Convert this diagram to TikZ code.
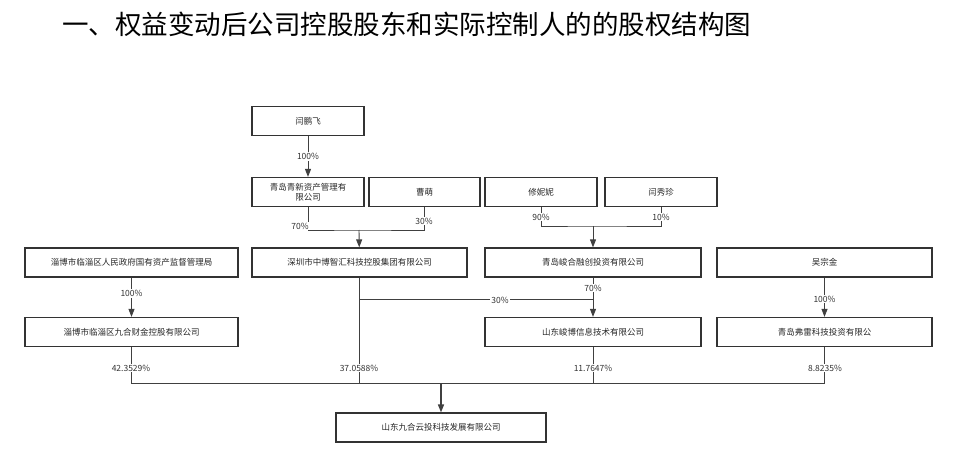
\documentclass[tikz,border=0pt]{standalone}
\usepackage{fontspec}
\setmainfont{Noto Sans CJK SC}
\usetikzlibrary{arrows.meta}
\begin{document}
\begin{tikzpicture}[x=1pt,y=-1pt,
  box/.style={draw=black!80,line width=1.2pt,minimum height=29pt,inner sep=1pt,font=\fontsize{8.5}{10}\selectfont,text=black!85,align=center},
  ln/.style={draw=black!75,line width=0.9pt},
  ar/.style={ln,-{Triangle[length=8pt,width=6pt]}},
  lb/.style={fill=white,inner sep=1pt,font=\fontsize{8.5}{10}\selectfont,text=black!80}]
\useasboundingbox (0,0) rectangle (960,465);
\node[anchor=west,font=\fontsize{26.5}{28}\selectfont,inner sep=0pt,text=black] (title) at (62,24) {一、权益变动后公司控股股东和实际控制人的的股权结构图};
\newcommand{\bx}[6]{\node[box,minimum width=#4-#3] (#1) at ({(#3+#4)/2},{(#5+#6)/2}) {#2};}
\bx{ypf}{闫鹏飞}{252}{364}{107}{135}
\bx{qx}{青岛青新资产管理有\\限公司}{252}{364}{177}{207}
\bx{cm}{曹萌}{369}{480}{177}{207}
\bx{xnn}{修妮妮}{485}{597}{177}{207}
\bx{yxz}{闫秀珍}{605}{717}{177}{207}
\bx{zbgz}{淄博市临淄区人民政府国有资产监督管理局}{25}{238}{248}{277}
\bx{sz}{深圳市中博智汇科技控股集团有限公司}{252}{467}{248}{277}
\bx{jh}{青岛峻合融创投资有限公司}{485}{701}{248}{277}
\bx{wzj}{吴宗金}{717}{932}{248}{277}
\bx{jh9}{淄博市临淄区九合财金控股有限公司}{25}{238}{317}{347}
\bx{sdjb}{山东峻博信息技术有限公司}{485}{701}{317}{347}
\bx{fl}{青岛弗雷科技投资有限公}{717}{932}{317}{347}
\bx{main}{山东九合云投科技发展有限公司}{336}{546}{412}{443}
% top
\draw[ar] (ypf) -- node[lb]{100\%} (qx);
\coordinate (j1) at (359,230);
\draw[ln] (qx.south) |- (j1) -| (cm.south);
\node[lb] at (300,226) {70\%};
\node[lb] at (424,221) {30\%};
\draw[ar] (j1) -- (sz);
\coordinate (j2) at (593,226);
\draw[ln] (xnn.south) |- (j2) -| (yxz.south);
\node[lb] at (541,217) {90\%};
\node[lb] at (661,217) {10\%};
\draw[ar] (j2) -- (jh.north -| j2);
% middle
\draw[ar] (zbgz) -- node[lb,pos=0.4]{100\%} (jh9);
\draw[ar] (wzj) -- node[lb,pos=0.55]{100\%} (fl);
\coordinate (j3) at (359,299);
\draw[ln] (j3) -- (593,299);
\node[lb] at (500,300) {30\%};
\draw[ar] (jh.south -| j2) -- (sdjb.north -| j2);
\node[lb] at (593,288) {70\%};
% bottom bus
\coordinate (bus) at (441,383);
\draw[ln] (jh9.south) |- (bus);
\draw[ln] (fl.south) |- (bus);
\draw[ln] (sz.south -| j1) -- (359,383);
\draw[ln] (sdjb.south -| j2) -- (593,383);
\node[lb] at (131,368) {42.3529\%};
\node[lb] at (359,368) {37.0588\%};
\node[lb] at (593,368) {11.7647\%};
\node[lb] at (825,368) {8.8235\%};
\draw[ar,line width=1.5pt] (bus) -- (main.north -| bus);
\end{tikzpicture}
\end{document}
